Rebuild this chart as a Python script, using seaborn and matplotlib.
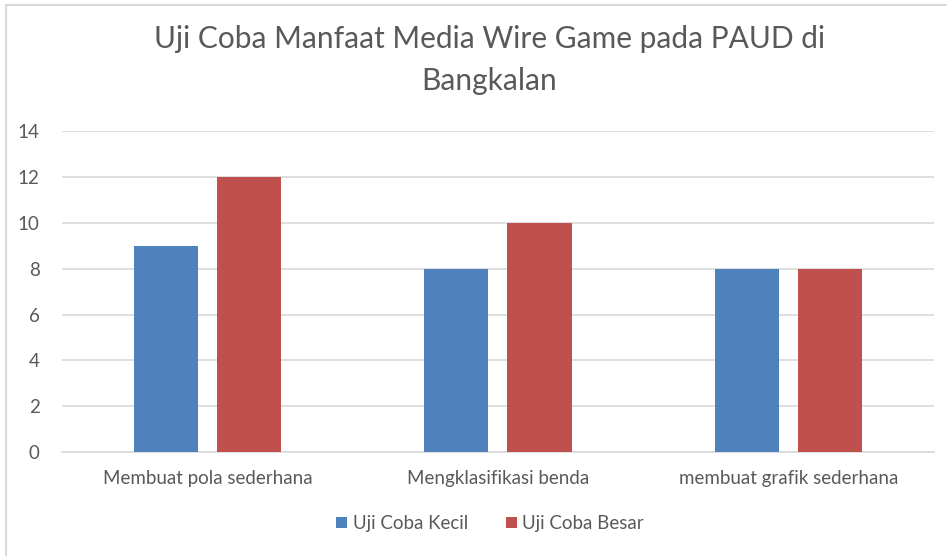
import matplotlib.pyplot as plt
import matplotlib.patches as mpatches
import pandas as pd
import seaborn as sns

# Data
kategori = ["Membuat pola sederhana", "Mengklasifikasi benda", "membuat grafik sederhana"]
uji_kecil = [9, 8, 8]
uji_besar = [12, 10, 8]
seri = ["Uji Coba Kecil", "Uji Coba Besar"]
warna = ["#4F81BD", "#C0504D"]

df = pd.DataFrame({
    "Kategori": kategori * 2,
    "Nilai": uji_kecil + uji_besar,
    "Seri": [seri[0]] * 3 + [seri[1]] * 3,
})

sns.set_style("white")
plt.rcParams["font.family"] = ["Lato", "DejaVu Sans"]
teks = "#595959"

fig = plt.figure(figsize=(9.47, 5.56), dpi=100)
ax = fig.add_axes([0.0655, 0.187, 0.9205, 0.577])

sns.barplot(data=df, x="Kategori", y="Nilai", hue="Seri", palette=warna,
            width=0.574, gap=0.23, saturation=1, linewidth=0, ax=ax, zorder=3)

ax.set_ylim(0, 14)
ax.set_yticks(range(0, 15, 2))
ax.set_xlim(-0.5, 2.5)
ax.grid(axis="y", color="#D9D9D9", linewidth=1.2, zorder=0)
for s in ["top", "right", "left"]:
    ax.spines[s].set_visible(False)
ax.spines["bottom"].set_color("#D9D9D9")
ax.spines["bottom"].set_linewidth(1.2)
ax.set_xlabel("")
ax.set_ylabel("")
ax.tick_params(axis="both", length=0, labelsize=13.5, colors=teks)
ax.tick_params(axis="x", pad=13)
ax.tick_params(axis="y", pad=16)

ax.set_title("Uji Coba Manfaat Media Wire Game pada PAUD di\nBangkalan",
             fontsize=21.5, color=teks, pad=30, linespacing=1.6, x=0.49)

ax.legend(loc="center", bbox_to_anchor=(0.491, -0.223), ncol=2, frameon=False,
          fontsize=13.5, labelcolor=teks, handlelength=0.6, handleheight=0.6,
          handletextpad=0.3, columnspacing=2.0)

# border kiri dan atas
fig.add_artist(mpatches.Rectangle((0.006, -0.1), 1.2, 1.091, transform=fig.transFigure,
                                  fill=False, edgecolor="#D9D9D9", linewidth=1.5))

plt.savefig("out.png", dpi=100)
